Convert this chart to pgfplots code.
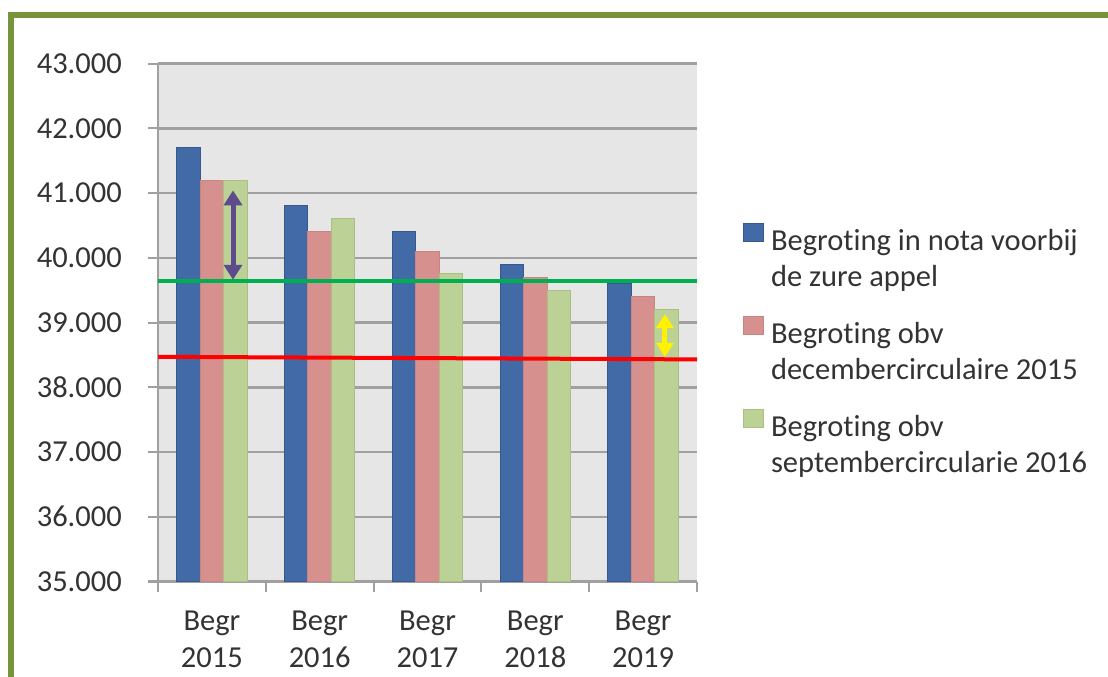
\documentclass[border=0pt]{standalone}
\usepackage{fontspec}
\setmainfont[Ligatures={NoCommon}]{Carlito}
\usepackage{pgfplots}
\pgfplotsset{compat=1.18}
\usetikzlibrary{arrows.meta}

\definecolor{frame}{RGB}{119,147,60}
\definecolor{plotbg}{RGB}{230,230,230}
\definecolor{gridgray}{RGB}{160,160,160}
\definecolor{barblue}{RGB}{66,106,166}
\definecolor{barblueedge}{RGB}{54,88,140}
\definecolor{barpink}{RGB}{214,145,143}
\definecolor{barpinkedge}{RGB}{200,132,130}
\definecolor{bargreen}{RGB}{188,209,150}
\definecolor{bargreenedge}{RGB}{170,192,130}
\definecolor{linegreen}{RGB}{0,176,80}
\definecolor{arrowpurple}{RGB}{95,75,139}

\begin{document}
\fontsize{30.5bp}{37bp}\selectfont
\begin{tikzpicture}
\useasboundingbox (0,0) rectangle (1108bp,677bp);
\fill[white] (0,0) rectangle (1108bp,677bp);
% olive frame (top and left edges only)
\draw[frame, line width=6bp] (8bp,662bp) -- (1108bp,662bp);
\draw[frame, line width=6bp] (11bp,665bp) -- (11bp,0bp);

\begin{axis}[
    at={(158bp,95.5bp)}, anchor=south west,
    scale only axis, width=539bp, height=518bp,
    xmin=-0.5, xmax=4.5, ymin=35000, ymax=43000,
    scaled y ticks=false,
    ybar=0pt, bar width=23.5bp,
    axis background/.style={fill=plotbg},
    axis lines*=left,
    axis line style={draw=gridgray, line width=2bp},
    ymajorgrids, grid style={draw=gridgray, line width=2.5bp},
    ytick={35000,36000,...,43000},
    yticklabels={35.000,36.000,37.000,38.000,39.000,40.000,41.000,42.000,43.000},
    xtick={0,1,2,3,4},
    xticklabels={{Begr\\2015},{Begr\\2016},{Begr\\2017},{Begr\\2018},{Begr\\2019}},
    minor xtick={-0.5,0.5,1.5,2.5,3.5,4.5},
    tick align=outside, major tick length=10bp, minor tick length=10bp,
    tick style={draw=gridgray, line width=2bp},
    major x tick style={draw=none},
    xticklabel style={align=center, inner sep=0pt, yshift=-19bp, text=black!80},
    yticklabel style={inner sep=0pt, xshift=-26bp, text=black!80},
    legend style={at={(1.085,0.692)}, anchor=north west, draw=none, fill=none,
        row sep=61bp, inner sep=0pt, text=black!80,
        font=\fontsize{30.5bp}{36bp}\selectfont,
        nodes={inner sep=0pt}, column sep=7bp},
    legend cell align=left,
    legend image code/.code={\fill[#1] (0bp,-1.5bp) rectangle (20bp,16.5bp);},
]
\addplot[fill=barblue, draw=barblueedge, line width=1bp]
    coordinates {(0,41700) (1,40800) (2,40400) (3,39900) (4,39600)};
\addlegendentry{\begin{tabular}[t]{@{}l@{}}Begroting in nota voorbij\\de zure appel\end{tabular}}
\addplot[fill=barpink, draw=barpinkedge, line width=1bp]
    coordinates {(0,41200) (1,40400) (2,40100) (3,39700) (4,39400)};
\addlegendentry{\begin{tabular}[t]{@{}l@{}}Begroting obv\\decembercirculaire 2015\end{tabular}}
\addplot[fill=bargreen, draw=bargreenedge, line width=1bp]
    coordinates {(0,41200) (1,40600) (2,39750) (3,39500) (4,39200)};
\addlegendentry{\begin{tabular}[t]{@{}l@{}}Begroting obv\\septembercircularie 2016\end{tabular}}

% reference lines and arrows
\draw[linegreen, line width=4bp] (axis cs:-0.5,39640) -- (axis cs:4.5,39640);
\draw[red, line width=4bp] (axis cs:-0.5,38470) -- (axis cs:4.5,38430);
\draw[arrowpurple, line width=5bp, {Triangle[width=18bp,length=15bp]}-{Triangle[width=18bp,length=15bp]}]
    (axis cs:0.196,41040) -- (axis cs:0.196,39660);
\draw[yellow, line width=5bp, {Triangle[width=17bp,length=14bp]}-{Triangle[width=17bp,length=14bp]}]
    (axis cs:4.203,39130) -- (axis cs:4.203,38470);
\end{axis}
\end{tikzpicture}
\end{document}
